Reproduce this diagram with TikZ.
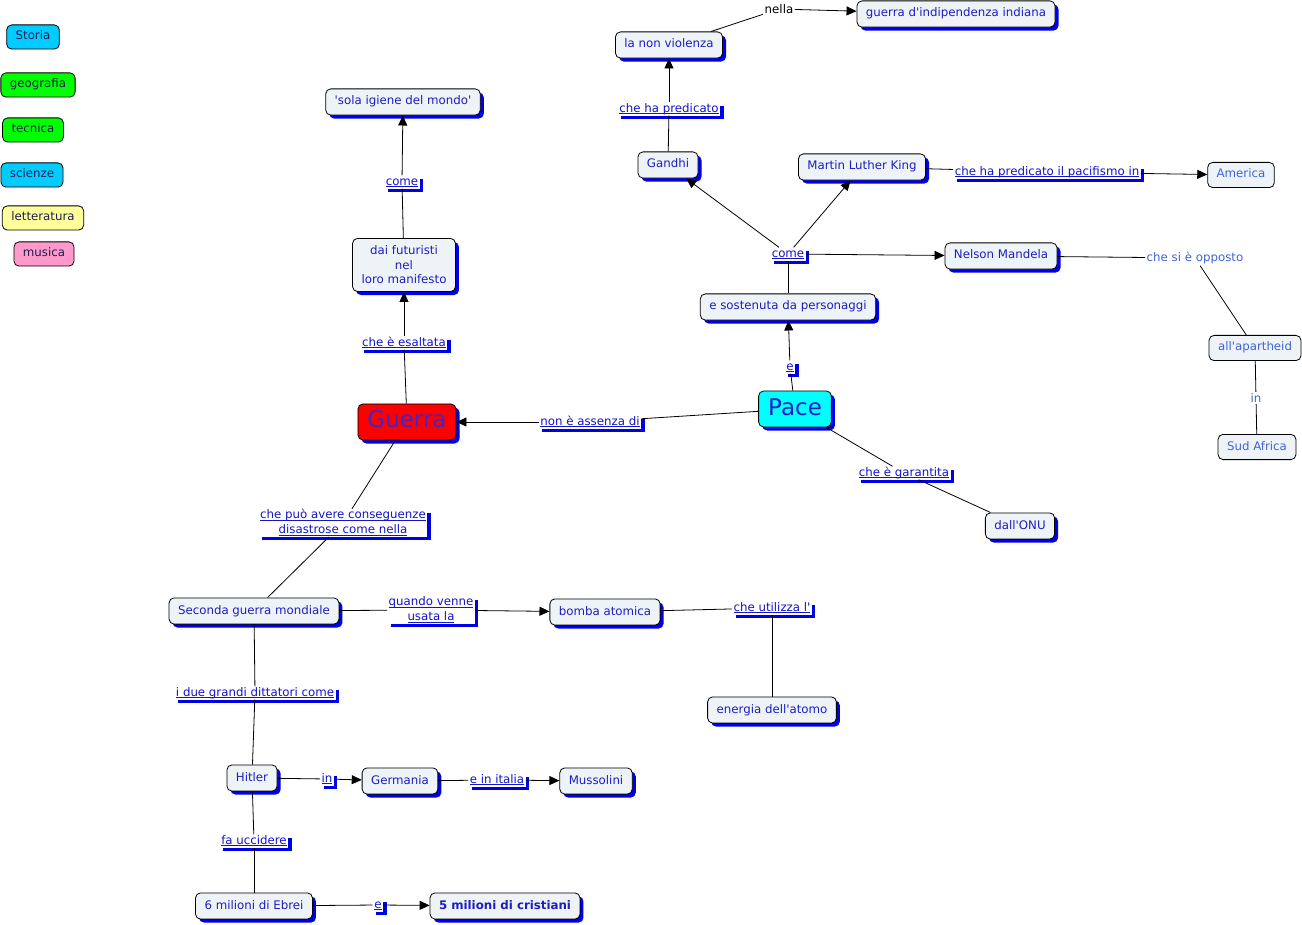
\documentclass[tikz,border=0pt]{standalone}
\usepackage{fontspec}
\setmainfont{DejaVu Sans}[Ligatures=TeXOff]
\usetikzlibrary{shadows,arrows.meta}
\definecolor{nfill}{RGB}{238,243,248}
\definecolor{ntext}{RGB}{30,30,190}
\definecolor{ltext}{RGB}{65,100,215}
\definecolor{labtext}{RGB}{20,20,200}
\definecolor{legtext}{RGB}{30,30,80}
\definecolor{shblue}{RGB}{0,0,230}
\definecolor{cyanfill}{RGB}{0,204,255}
\definecolor{pacefill}{RGB}{0,255,255}
\definecolor{greenfill}{RGB}{0,255,0}
\definecolor{yellowfill}{RGB}{255,255,153}
\definecolor{pinkfill}{RGB}{255,153,204}
\newcommand\myul[1]{\underline{\smash{#1}}\vphantom{Ag}}
\tikzset{
  txt/.style={font=\fontsize{11.8}{14.5}\selectfont},
  bshadow/.style={drop shadow={shadow xshift=3.5pt,shadow yshift=-3.5pt,fill=shblue,opacity=1}},
  cbase/.style={txt, draw=black, fill=nfill, rounded corners=5pt, inner xsep=9pt, inner ysep=7.5pt, text=ntext, line width=0.8pt, bshadow},
  cnode/.style={cbase, text height=8.6pt, text depth=2.6pt},
  lnode/.style={txt, draw=black, fill=nfill, rounded corners=5pt, inner xsep=9pt, inner ysep=7pt, text=ltext, line width=0.8pt, text height=8.6pt, text depth=2.6pt},
  leg/.style={txt, draw=black, rounded corners=5pt, inner xsep=9pt, inner ysep=6.5pt, text=legtext, line width=0.8pt, text height=8.6pt, text depth=2.6pt},
  lab/.style={txt, fill=white, text=labtext, inner xsep=1.5pt, inner ysep=1pt, bshadow, align=center},
  plab/.style={txt, fill=white, text=ltext, inner sep=1.5pt},
  big/.style={draw=black, rounded corners=5pt, line width=0.8pt, font=\fontsize{23}{26}\selectfont, text height=16.5pt, text depth=4.5pt, inner ysep=7.5pt, inner xsep=9.5pt, bshadow},
  arr/.style={line width=0.8pt, -{Triangle[length=10pt,width=9pt]}},
  conn/.style={line width=0.8pt}
}
\begin{document}
\begin{tikzpicture}[x=1pt,y=-1pt]
\useasboundingbox[fill=white] (0,0) rectangle (1302,925);
% legend
\node[leg, fill=cyanfill] (storia) at (33,37) {Storia};
\node[leg, fill=greenfill] (geo) at (38,85) {geografia};
\node[leg, fill=greenfill] (tec) at (33,130) {tecnica};
\node[leg, fill=cyanfill] (sci) at (32,175) {scienze};
\node[leg, fill=yellowfill] (lett) at (43,218) {letteratura};
\node[leg, fill=pinkfill] (mus) at (44,254) {musica};
% main concepts
\node[big, fill=red, text={rgb,255:red,60;green,40;blue,210}] (guerra) at (407,422) {Guerra};
\node[big, fill=pacefill, text={rgb,255:red,20;green,30;blue,200}] (pace) at (795,409) {Pace};
\node[cnode] (igiene) at (403,102) {'sola igiene del mondo'};
\node[cbase, align=center] (futur) at (404,265) {dai futuristi\\nel\\loro manifesto};
\node[cnode] (nonviol) at (669,45) {la non violenza};
\node[cnode] (indip) at (956,14) {guerra d'indipendenza indiana};
\node[cnode] (gandhi) at (668,165) {Gandhi};
\node[cnode] (mlk) at (862,167) {Martin Luther King};
\node[lnode] (america) at (1241,175) {America};
\node[cnode] (mandela) at (1001,256) {Nelson Mandela};
\node[lnode] (apart) at (1255,348) {all'apartheid};
\node[lnode] (sudafr) at (1257,447) {Sud Africa};
\node[cnode] (sosten) at (788,307) {e sostenuta da personaggi};
\node[cnode] (onu) at (1020,526) {dall'ONU};
\node[cnode] (seconda) at (254,611) {Seconda guerra mondiale};
\node[cnode] (bomba) at (605,612) {bomba atomica};
\node[cnode] (energia) at (772,710) {energia dell'atomo};
\node[cnode] (hitler) at (252,778) {Hitler};
\node[cnode] (germania) at (400,781) {Germania};
\node[cnode] (mussolini) at (596,781) {Mussolini};
\node[cnode] (ebrei) at (254,906) {6 milioni di Ebrei};
\node[cnode, font=\fontsize{11.8}{14.5}\selectfont\bfseries] (cristiani) at (505,906) {5 milioni di cristiani};
% linking phrases
\node[lab] (l_esalt) at (404,343) {\myul{che è esaltata}};
\node[lab] (l_come1) at (402,182) {\myul{come}};
\node[lab] (l_assenza) at (590,422) {\myul{non è assenza di}};
\node[lab] (l_e1) at (790,367) {\myul{e}};
\node[lab] (l_come2) at (788,254) {\myul{come}};
\node[lab] (l_pred) at (669,109) {\myul{che ha predicato}};
\node[txt, fill=white, inner sep=1.5pt] (l_nella) at (779,9) {nella};
\node[lab] (l_pacif) at (1047,172) {\myul{che ha predicato il pacifismo in}};
\node[plab] (l_oppo) at (1195,258) {che si è opposto};
\node[plab] (l_in2) at (1256,398) {in};
\node[lab] (l_garant) at (904,473) {\myul{che è garantita}};
\node[lab] (l_conseg) at (343,523) {\myul{che può avere conseguenze}\\\myul{disastrose come nella}};
\node[lab] (l_quando) at (431,610) {\myul{quando venne}\\\myul{usata la}};
\node[lab] (l_utilizza) at (772,608) {\myul{che utilizza l'}};
\node[lab] (l_ditt) at (255,693) {\myul{i due grandi dittatori come}};
\node[lab] (l_in1) at (327,779) {\myul{in}};
\node[lab] (l_italia) at (497,780) {\myul{e in italia}};
\node[lab] (l_ucc) at (254,841) {\myul{fa uccidere}};
\node[lab] (l_e2) at (378,905) {\myul{e}};
% connectors
\draw[conn] (guerra) -- (l_esalt);
\draw[arr] (l_esalt) -- (futur);
\draw[conn] (futur) -- (l_come1);
\draw[arr] (l_come1) -- (igiene);
\draw[conn] (pace) -- (l_assenza);
\draw[arr] (l_assenza) -- (guerra);
\draw[conn] (pace) -- (l_e1);
\draw[arr] (l_e1) -- (sosten);
\draw[conn] (sosten) -- (l_come2);
\draw[arr] (l_come2) -- (gandhi);
\draw[arr] (l_come2) -- (mlk);
\draw[arr] (l_come2) -- (mandela);
\draw[conn] (gandhi) -- (l_pred);
\draw[arr] (l_pred) -- (nonviol);
\path (nonviol.north east) ++(-12,0) coordinate (nvne);
\draw[conn] (nvne) -- (l_nella);
\draw[arr] (l_nella) -- (indip);
\draw[conn] (mlk) -- (l_pacif);
\draw[arr] (l_pacif) -- (america);
\draw[conn] (mandela) -- (l_oppo);
\draw[conn] (l_oppo) -- (apart);
\draw[conn] (apart) -- (l_in2);
\draw[conn] (l_in2) -- (sudafr);
\draw[conn] (pace) -- (l_garant);
\draw[conn] (l_garant) -- (onu);
\draw[conn] (guerra) -- (l_conseg);
\draw[conn] (l_conseg) -- (seconda);
\draw[conn] (seconda) -- (l_quando);
\draw[arr] (l_quando) -- (bomba);
\draw[conn] (bomba) -- (l_utilizza);
\draw[conn] (l_utilizza) -- (energia);
\draw[conn] (seconda) -- (l_ditt);
\draw[conn] (l_ditt) -- (hitler);
\draw[conn] (hitler) -- (l_in1);
\draw[arr] (l_in1) -- (germania);
\draw[conn] (germania) -- (l_italia);
\draw[arr] (l_italia) -- (mussolini);
\draw[conn] (hitler) -- (l_ucc);
\draw[conn] (l_ucc) -- (ebrei);
\draw[conn] (ebrei) -- (l_e2);
\draw[arr] (l_e2) -- (cristiani);
\end{tikzpicture}
\end{document}
